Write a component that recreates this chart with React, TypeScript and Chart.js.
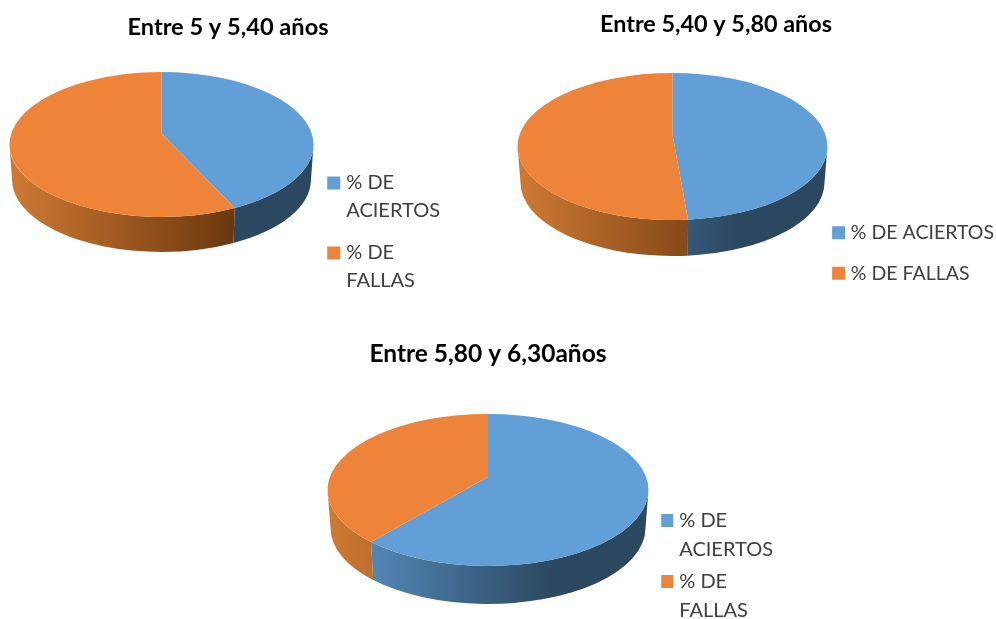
import React, { useEffect, useRef } from "react";
import { Chart, registerables } from "chart.js";

Chart.register(...registerables);

const wrappedLabels = [["% DE", "ACIERTOS"], ["% DE", "FALLAS"]];
const flatLabels = ["% DE ACIERTOS", "% DE FALLAS"];
const valuesA = [42, 58];
const valuesB = [48.4, 51.6];
const valuesC = [63, 37];
const titleA = "Entre 5 y 5,40 años";
const titleB = "Entre 5,40 y 5,80 años";
const titleC = "Entre 5,80 y 6,30años";
const BLUE = "#629FD7";
const ORANGE = "#EE843A";

const sideStops: Record<string, [number, string][]> = {
  [BLUE]: [[0, "rgb(91,150,200)"], [0.7, "rgb(44,72,97)"], [1, "rgb(44,72,97)"]],
  [ORANGE]: [[0, "rgb(208,122,52)"], [1, "rgb(72,32,0)"]],
};

const pie3d = {
  id: "pie3d",
  beforeDatasetDraw(chart: any, _args: any, o: any) {
    const { ctx } = chart;
    const arcs = chart.getDatasetMeta(0).data;
    const rx = arcs[0].outerRadius;
    const { cx, cy, ry, depth, lift, inset } = o;
    // side wall
    for (const arc of arcs) {
      const a0 = Math.max(arc.startAngle, 0);
      const a1 = Math.min(arc.endAngle, Math.PI);
      if (a1 <= a0) continue;
      const g = ctx.createLinearGradient(cx - rx, 0, cx + rx, 0);
      for (const [p, c] of sideStops[arc.options.backgroundColor]) g.addColorStop(p, c);
      ctx.beginPath();
      ctx.ellipse(cx, cy, rx, ry, 0, a0, a1);
      ctx.ellipse(cx, cy + depth, rx - inset, ry, 0, a1, a0, true);
      ctx.closePath();
      ctx.fillStyle = g;
      ctx.fill();
    }
    // top face
    for (const arc of arcs) {
      ctx.beginPath();
      ctx.moveTo(cx, cy - lift);
      ctx.ellipse(cx, cy, rx, ry, 0, arc.startAngle, arc.endAngle);
      ctx.closePath();
      ctx.fillStyle = arc.options.backgroundColor;
      ctx.fill();
    }
    return false;
  },
};

const FONT = "Lato, 'Open Sans', sans-serif";

function Pie({ title, titleSize, legendSize, labels, values, left, top, width, height, radius, pie, padding, lineHeight, titlePad }: any) {
  const ref = useRef<HTMLCanvasElement>(null);
  useEffect(() => {
    const chart = new Chart(ref.current!, {
      type: "pie",
      data: {
        labels,
        datasets: [{
          data: values,
          backgroundColor: [BLUE, ORANGE],
          borderColor: [BLUE, ORANGE],
          borderWidth: 8,
          radius,
        } as any],
      },
      plugins: [pie3d],
      options: {
        responsive: false,
        animation: false,
        plugins: {
          pie3d: pie,
          tooltip: { enabled: false },
          title: {
            display: true,
            text: title,
            color: "#000",
            font: { family: FONT, size: titleSize, weight: "bold" },
            padding: titlePad,
          },
          legend: {
            position: "right",
            labels: {
              boxWidth: 5,
              boxHeight: 5,
              padding,
              color: "#404040",
              font: { family: FONT, size: legendSize, lineHeight },
            },
          },
        },
      } as any,
    });
    return () => chart.destroy();
  }, []);
  return (
    <canvas
      ref={ref}
      width={width}
      height={height}
      style={{ position: "absolute", left, top, width, height }}
    />
  );
}

export default function App() {
  return (
    <div style={{ position: "fixed", left: 0, top: 0, width: 996, height: 619, overflow: "hidden", background: "#fff" }}>
      <Pie
        title={titleA} titleSize={23.6} legendSize={20} labels={wrappedLabels} values={valuesA}
        left={6} top={0} width={444} height={472} radius={152}
        pie={{ cx: 155.5, cy: 144.5, ry: 72.5, depth: 35, lift: 11, inset: 2.5 }}
        padding={14} lineHeight={1.4} titlePad={{ top: 13, bottom: 18 }}
      />
      <Pie
        title={titleB} titleSize={23.4} legendSize={19.5} labels={flatLabels} values={valuesB}
        left={428} top={0} width={576} height={506} radius={155}
        pie={{ cx: 244.5, cy: 146.5, ry: 73.5, depth: 36, lift: 12, inset: 3 }}
        padding={21} lineHeight={1.2} titlePad={{ top: 10, bottom: 18 }}
      />
      <Pie
        title={titleC} titleSize={24.5} legendSize={20} labels={wrappedLabels} values={valuesC}
        left={193} top={330} width={590} height={480} radius={160.5}
        pie={{ cx: 295, cy: 160, ry: 76, depth: 38, lift: 13, inset: 3 }}
        padding={3} lineHeight={1.45} titlePad={{ top: 9, bottom: 18 }}
      />
    </div>
  );
}
